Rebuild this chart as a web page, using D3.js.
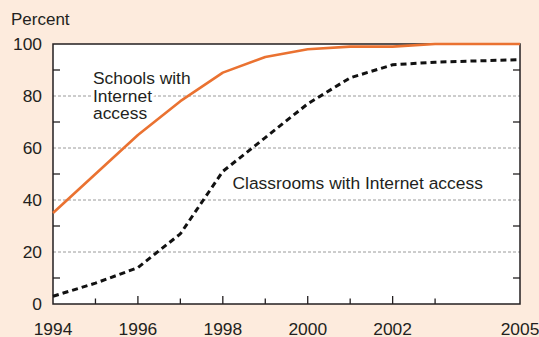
<!DOCTYPE html>
<html><head><meta charset="utf-8">
<script src="https://cdn.jsdelivr.net/npm/d3@7/dist/d3.min.js"></script>
<style>
html,body{margin:0;padding:0;background:#fdebdd;}
svg{display:block;font-family:"Liberation Sans",Arial,Helvetica,sans-serif;}
</style></head>
<body><svg id="c" width="539" height="337"></svg>
<script>
const years = [1994,1995,1996,1997,1998,1999,2000,2001,2002,2003,2005];
const schools = [35,50,65,78,89,95,98,99,99,100,100];
const classrooms = [3,8,14,27,51,64,77,87,92,93,94];
const xTickLabels = [1994,1996,1998,2000,2002,2005];
const xMinorTicks = [1995,1996,1997,1998,1999,2000,2001,2002,2003];
const yTickLabels = [0,20,40,60,80,100];
const yGrid = [20,40,60,80];
const yMinorTicks = [10,30,50,70,90];

const svg = d3.select("#c");
const x = d3.scaleLinear().domain([1994,2005]).range([53,520]);
const y = d3.scaleLinear().domain([0,100]).range([304,44]);
const ink = "#231f20";

svg.append("rect").attr("x",x(1994)).attr("y",y(100)).attr("width",x(2005)-x(1994)).attr("height",y(0)-y(100)).attr("fill","#fff");

// gridlines
svg.append("g").selectAll("line").data(yGrid).join("line")
  .attr("x1",x(1994)).attr("x2",x(2005)).attr("y1",d=>y(d)).attr("y2",d=>y(d))
  .attr("stroke","#9a9a9a").attr("stroke-width",1).attr("stroke-dasharray","3,2");

// annotations with white halo
const ann = svg.append("g").attr("font-size","17.4px").attr("fill",ink)
  .attr("stroke","#fff").attr("stroke-width",6).attr("paint-order","stroke").attr("stroke-linejoin","round");
[["Schools with",84],["Internet",101.5],["access",118.5]].forEach(([t,b])=>{
  ann.append("text").attr("x",93).attr("y",b).text(t);
});
ann.append("text").attr("x",232.5).attr("y",188.5).text("Classrooms with Internet access");

// frame
const fr = svg.append("g").attr("stroke",ink).attr("stroke-width",1.5).attr("fill","none");
fr.append("rect").attr("x",x(1994)).attr("y",y(100)).attr("width",x(2005)-x(1994)).attr("height",y(0)-y(100));
// x ticks
fr.selectAll(".xt").data(xMinorTicks).join("line")
  .attr("x1",d=>x(d)).attr("x2",d=>x(d)).attr("y1",y(0))
  .attr("y2",d=>y(0)-(d%2===0?8:5.5)).attr("stroke-width",1.3);
// y minor ticks left & right
fr.selectAll(".yl").data(yMinorTicks).join("line")
  .attr("x1",x(1994)).attr("x2",x(1994)+7).attr("y1",d=>y(d)).attr("y2",d=>y(d)).attr("stroke-width",1.3);
fr.selectAll(".yr").data(yMinorTicks).join("line")
  .attr("x1",x(2005)).attr("x2",x(2005)-7).attr("y1",d=>y(d)).attr("y2",d=>y(d)).attr("stroke-width",1.3);

// lines
const line = d3.line().x((d,i)=>x(years[i])).y(d=>y(d));
svg.append("path").datum(classrooms).attr("d",line).attr("fill","none")
  .attr("stroke","#111").attr("stroke-width",3).attr("stroke-dasharray","6,4");
svg.append("path").datum(schools).attr("d",line).attr("fill","none")
  .attr("stroke","#ea7231").attr("stroke-width",2.6).attr("stroke-linejoin","round");

// labels
const lab = svg.append("g").attr("font-size","17.4px").attr("fill",ink);
lab.selectAll(".yl").data(yTickLabels).join("text")
  .attr("x",42).attr("y",d=>y(d)+6.3).attr("text-anchor","end").text(d=>d);
lab.selectAll(".xl").data(xTickLabels).join("text")
  .attr("x",d=>x(d)).attr("y",335).attr("text-anchor","middle").text(d=>d);
lab.append("text").attr("x",11).attr("y",25).attr("font-size","17px").text("Percent");
</script></body></html>
